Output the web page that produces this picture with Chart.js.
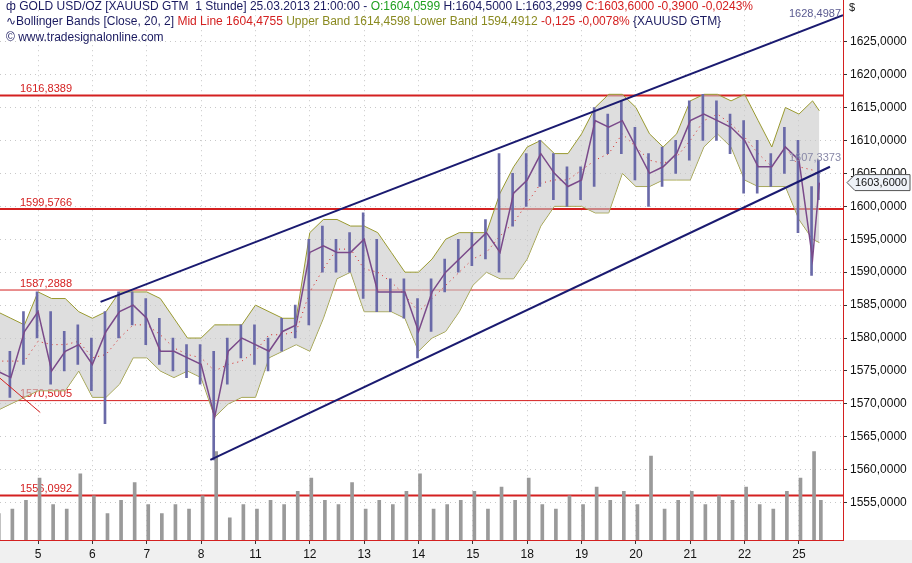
<!DOCTYPE html>
<html>
<head>
<meta charset="utf-8">
<script src="https://cdn.jsdelivr.net/npm/chart.js@4.4.1/dist/chart.umd.min.js"></script>
<style>
  html, body { margin: 0; padding: 0; background: #fff; overflow: hidden; }
</style>
</head>
<body>
<canvas id="gold" width="912" height="563"></canvas>
<script>
/* ---------- data ---------- */
var dayLabels = ["5", "6", "7", "8", "11", "12", "13", "14", "15", "18", "19", "20", "21", "22", "25"];
var xs = [0.75, 1, 1.25, 1.5, 1.75, 2, 2.25, 2.5, 2.75, 3, 3.25, 3.5, 3.75, 4, 4.25, 4.5, 4.75,
          5, 5.25, 5.5, 5.75, 6, 6.25, 6.5, 6.75, 7, 7.25, 7.5, 7.75, 8, 8.25, 8.5, 8.75,
          9, 9.25, 9.5, 9.75, 10, 10.25, 10.5, 10.75, 11, 11.25, 11.5, 11.75, 12, 12.25, 12.5, 12.75,
          13, 13.25, 13.5, 13.75, 14, 14.25, 14.5, 14.75, 15, 15.25, 15.5, 15.75, 15.875];
var closes = [1575, 1574, 1581, 1584, 1575, 1578, 1579, 1576, 1581, 1584, 1585, 1583, 1578, 1578, 1577, 1576, 1568,
              1578, 1580, 1579, 1578, 1581, 1582, 1593, 1594, 1593, 1593, 1595, 1587, 1587, 1587, 1581, 1587,
              1590, 1592, 1594, 1596, 1593, 1602, 1604, 1608, 1605, 1603, 1604, 1613, 1612, 1613, 1609, 1605,
              1606, 1608, 1613, 1614, 1613, 1612, 1610, 1606, 1606, 1609, 1607, 1592, 1603.6];
var highs = [1578, 1578, 1584, 1587, 1584, 1581, 1582, 1580, 1584, 1587, 1587, 1586, 1583, 1580, 1579, 1579, 1578,
             1580, 1582, 1582, 1580, 1583, 1585, 1595, 1597, 1595, 1596, 1599, 1595, 1589, 1589, 1586, 1589,
             1592, 1595, 1596, 1598, 1608, 1605, 1608, 1610, 1608, 1606, 1606, 1615, 1614, 1616, 1612, 1608,
             1609, 1610, 1616, 1617, 1616, 1614, 1613, 1610, 1608, 1612, 1610, 1603, 1607];
var lows = [1569, 1571, 1576, 1580, 1573, 1575, 1576, 1572, 1567, 1580, 1582, 1579, 1576, 1575, 1574, 1573, 1561.5,
            1573, 1577, 1576, 1575, 1578, 1580, 1582, 1590, 1590, 1590, 1586, 1584, 1584, 1583, 1577, 1581,
            1587, 1590, 1591, 1592, 1590, 1597, 1600, 1603, 1601, 1600, 1601, 1603, 1608, 1608, 1604, 1600,
            1603, 1605, 1607, 1610, 1610, 1608, 1602, 1602, 1603, 1605, 1596, 1589.5, 1601];
var upperBand = [1584, 1583, 1582, 1587, 1586, 1586, 1584, 1583, 1584, 1587, 1587, 1587, 1586, 1583, 1580, 1580, 1582,
                 1582, 1582, 1585, 1584, 1583, 1583, 1596, 1598, 1598, 1597, 1597, 1596, 1593, 1590, 1590, 1592,
                 1595, 1596, 1596, 1596, 1602, 1606, 1609, 1610, 1608, 1608, 1611, 1615, 1617, 1617, 1615, 1611,
                 1609, 1611, 1616, 1617, 1617, 1616, 1617, 1613, 1609, 1615, 1614, 1616, 1614.5];
var lowerBand = [1569, 1570, 1571, 1572, 1572, 1572, 1575, 1571, 1571, 1573, 1577, 1577, 1575, 1574, 1575, 1574, 1568,
                 1570, 1571, 1571, 1577, 1578, 1579, 1578, 1583, 1589, 1590, 1584, 1584, 1584, 1583, 1578, 1580,
                 1581, 1584, 1588, 1590, 1589, 1589, 1592, 1597, 1600, 1600, 1600, 1599, 1599, 1605, 1603, 1603,
                 1604, 1604, 1604, 1609, 1611, 1609, 1604, 1603, 1603, 1603, 1598, 1595, 1594.5];
var midLine = [1576.5, 1576.5, 1576.5, 1579.5, 1579, 1579, 1579.5, 1577, 1577.5, 1580, 1582, 1582, 1580.5, 1578.5, 1577.5, 1577, 1575,
               1576, 1576.5, 1578, 1580.5, 1580.5, 1581, 1587, 1590.5, 1593.5, 1593.5, 1590.5, 1590, 1588.5, 1586.5, 1584, 1586,
               1588, 1590, 1592, 1593, 1595.5, 1597.5, 1600.5, 1603.5, 1604, 1604, 1605.5, 1607, 1608, 1611, 1609, 1607,
               1606.5, 1607.5, 1610, 1613, 1614, 1612.5, 1610.5, 1608, 1606, 1609, 1606, 1605.5, 1604.5];
var volumes = [30, 35, 45, 70, 40, 35, 75, 50, 30, 45, 65, 40, 30, 40, 35, 50, 100,
               25, 40, 35, 45, 40, 55, 70, 45, 40, 65, 35, 45, 40, 55, 75, 35,
               40, 45, 55, 35, 60, 45, 70, 40, 35, 50, 40, 60, 45, 55, 40, 95,
               35, 45, 55, 40, 50, 45, 60, 40, 35, 55, 70, 100, 45];
var levels = [1616.8389, 1599.5766, 1587.2888, 1570.5005, 1556.0992];
var upperChannel = [{ x: 2.65, y: 1585.5 }, { x: 16.31, y: 1629 }];
var lowerChannel = [{ x: 4.67, y: 1561.5 }, { x: 16.07, y: 1606 }];
var redStroke = [{ x: 0.8, y: 1573.9 }, { x: 1.54, y: 1568.7 }];

function pts(arr) { return xs.map(function (x, i) { return { x: x, y: arr[i] }; }); }
function fmt(v) { return v.toFixed(4).replace(".", ","); }

var FONT = "'Liberation Sans', Arial, sans-serif";

/* ---------- overlays ---------- */
var overlay = {
    id: "overlay",
    beforeDraw: function (chart) {
        var c = chart.ctx, a = chart.chartArea;
        c.save();
        c.fillStyle = "#f0f0f0";
        c.fillRect(0, a.bottom, 912, 563 - a.bottom);
        c.restore();
    },
    beforeDatasetsDraw: function (chart) {
        var c = chart.ctx, a = chart.chartArea, y = chart.scales.y;
        c.save();
        levels.forEach(function (v, i) {
            var py = y.getPixelForValue(v);
            c.strokeStyle = "#d42020";
            c.lineWidth = (i <= 1 || i === 4) ? 2 : 1;
            c.beginPath(); c.moveTo(a.left, py); c.lineTo(a.right, py); c.stroke();
            c.fillStyle = "#d42020";
            c.font = "11px " + FONT;
            c.textBaseline = "bottom";
            c.fillText(fmt(v), 20, py - 1);
        });
        c.restore();
    },
    afterDraw: function (chart) {
        var c = chart.ctx, y = chart.scales.y, a = chart.chartArea;
        c.save();
        c.font = "12px " + FONT;
        c.textBaseline = "middle";
        var parts = [["\u0444 GOLD USD/OZ [XAUUSD GTM  1 Stunde] 25.03.2013 21:00:00 - ", "#1a1a60"], ["O:1604,0599 ", "#20a020"],
                     ["H:1604,5000 L:1603,2999 ", "#1a1a60"], ["C:1603,6000 -0,3900 -0,0243%", "#d42020"]];
        var px = 6;
        parts.forEach(function (p) { c.fillStyle = p[1]; c.fillText(p[0], px, 7); px += c.measureText(p[0]).width; });
        parts = [["\u223FBollinger Bands [Close, 20, 2] ", "#1a1a60"], ["Mid Line 1604,4755 ", "#d42020"],
                 ["Upper Band 1614,4598 Lower Band 1594,4912 ", "#8a8a20"], ["-0,125 -0,0078% ", "#d42020"], ["{XAUUSD GTM}", "#1a1a60"]];
        px = 6;
        parts.forEach(function (p) { c.fillStyle = p[1]; c.fillText(p[0], px, 22); px += c.measureText(p[0]).width; });
        c.fillStyle = "#1a1a60";
        c.fillText("\u00A9 www.tradesignalonline.com", 6, 38);
        c.font = "11px " + FONT;
        c.fillStyle = "#5a5a90";
        c.textAlign = "right";
        c.fillText("1628,4987", a.right - 2, 14);
        c.fillStyle = "#8888a8";
        c.fillText("1607,3373", a.right - 2, y.getPixelForValue(1606.5) - 6);
        // current price box
        var py = y.getPixelForValue(1603.6);
        c.fillStyle = "#eef2f8"; c.strokeStyle = "#555";
        c.beginPath(); c.moveTo(a.right + 4, py); c.lineTo(a.right + 12, py - 8); c.lineTo(910, py - 8);
        c.lineTo(910, py + 8); c.lineTo(a.right + 12, py + 8); c.closePath(); c.fill(); c.stroke();
        c.fillStyle = "#111"; c.fillText("1603,6000", 907, py);
        c.textAlign = "left";
        c.fillText("$", a.right + 6, 8);
        c.strokeStyle = "#d42020"; c.lineWidth = 1;
        c.beginPath(); c.moveTo(a.right + 0.5, 0); c.lineTo(a.right + 0.5, a.bottom); c.stroke();
        c.restore();
    }
};

var ctx = document.getElementById("gold");

var myChart = new Chart(ctx, {
    data: {
        datasets: [
            { type: "line", data: pts(upperBand), borderColor: "#9a9a30", borderWidth: 1, pointRadius: 0, fill: "+1",
              backgroundColor: "rgba(200,200,200,0.6)", yAxisID: "y", order: 5 },
            { type: "line", data: pts(lowerBand), borderColor: "#9a9a30", borderWidth: 1, pointRadius: 0, fill: false, yAxisID: "y", order: 5 },
            { type: "line", data: pts(midLine), borderColor: "#d42020", borderWidth: 1, borderDash: [1, 4], pointRadius: 0, fill: false, yAxisID: "y", order: 4 },
            { type: "bar", data: xs.map(function (x, i) { return { x: x, y: volumes[i] }; }), backgroundColor: "#9a9a9a",
              barThickness: 3, yAxisID: "vol", order: 6 },
            { type: "bar", data: xs.map(function (x, i) { return { x: x, y: [lows[i], highs[i]] }; }), backgroundColor: "#6a6aa8",
              barThickness: 2, yAxisID: "y", order: 3 },
            { type: "line", data: pts(closes), borderColor: "#7a4a8a", borderWidth: 1.5, pointRadius: 0, fill: false, yAxisID: "y", order: 2 },
            { type: "line", data: upperChannel, borderColor: "#1a1a70", borderWidth: 2, pointRadius: 0, yAxisID: "y", order: 1 },
            { type: "line", data: lowerChannel, borderColor: "#1a1a70", borderWidth: 2, pointRadius: 0, yAxisID: "y", order: 1 },
            { type: "line", data: redStroke, borderColor: "#d42020", borderWidth: 1, pointRadius: 0, yAxisID: "y", order: 1 }
        ]
    },
    plugins: [overlay],
    options: {
        responsive: false,
        animation: false,
        layout: { padding: 0 },
        plugins: { legend: { display: false }, tooltip: { enabled: false } },
        scales: {
            x: {
                type: "linear", min: 0.8, max: 16.31, offset: false,
                afterBuildTicks: function (s) { s.ticks = dayLabels.map(function (d, i) { return { value: i + 1.5 }; }); },
                afterFit: function (s) { s.height = 23; },
                ticks: { autoSkip: false, maxRotation: 0, color: "#111", font: { size: 12, family: FONT },
                         callback: function (v, i) { return dayLabels[i]; } },
                grid: { offset: false, color: "#c8c8c8", tickLength: 4, tickColor: "#333" },
                border: { dash: [1, 4], color: "#d42020" }
            },
            y: {
                position: "right", min: 1549.34, max: 1629.77,
                afterBuildTicks: function (s) { var t = []; for (var v = 1555; v <= 1625; v += 5) t.push({ value: v }); s.ticks = t; },
                afterFit: function (s) { s.width = 69; },
                ticks: { autoSkip: false, color: "#111", font: { size: 12, family: FONT }, padding: 3, callback: function (v) { return fmt(v); } },
                grid: { color: "#c8c8c8", tickLength: 4, tickColor: "#333" },
                border: { dash: [1, 4], color: "#d42020" }
            },
            vol: { display: false, min: 0, max: 600 }
        }
    }
});
</script>
</body>
</html>
